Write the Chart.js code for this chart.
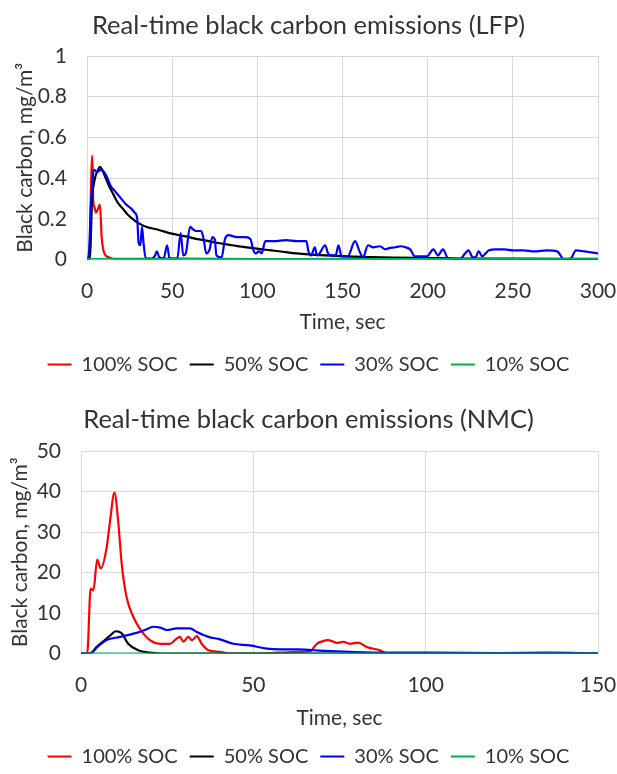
<!DOCTYPE html>
<html lang="en">
<head>
<meta charset="utf-8">
<script src="https://cdn.jsdelivr.net/npm/chart.js"></script>
<style>
    html, body { margin: 0; padding: 0; background: #fff; overflow: hidden; }
    canvas { position: absolute; left: 0; }
</style>
</head>
<body>
<canvas id="lfpChart" width="617" height="400" style="top:0px"></canvas>
<canvas id="nmcChart" width="617" height="380" style="top:400px"></canvas>
<script>
// LFP cell, time in sec and black carbon in mg/m3
const lfp100T = [0,1.5,2.2,3.1,3.6,4.3,5.3,6.5,7.6,8.6,10.2,13,16,25,50,100,150,200,250,300];
const lfp100V = [0,0,0.3,0.51,0.3,0.26,0.23,0.25,0.27,0.11,0.03,0.01,0.003,0.003,0.004,0.002,0.003,0.003,0.002,0.002];
const lfp50T = [0,1,2,3,4,5,6,7.6,9,11,13,15.5,18,21,24,28.2,31,35,40,45,49.7,55,60,65,70,74,80,85,90,95,99.6,105,110,115,123,130,140,152.5,165,180,200,220,250,300];
const lfp50V = [0,0,0.05,0.3,0.37,0.41,0.43,0.455,0.44,0.4,0.36,0.32,0.28,0.25,0.22,0.19,0.175,0.16,0.15,0.138,0.127,0.118,0.11,0.1,0.093,0.085,0.077,0.07,0.064,0.058,0.053,0.048,0.043,0.038,0.03,0.025,0.02,0.015,0.012,0.009,0.007,0.005,0.004,0.003];
const lfp30T = [0,1,2.5,4,6,8,10,12,14,16,17,20,23,26,28,29.5,30.3,31.3,32.3,33.2,34.5,38,40,41,42.5,45,47,48.5,53,55,56.5,58,60.5,62,64,67,68.5,70,72,73.6,75,76,79,81,83,88,93,96,97.5,99,101,102.5,104.7,110,117,123,128.8,130,131.5,133.8,135,136.5,139.8,141.5,143,146,147.6,149.5,153,157.4,160,162,165,168,172,175,177,181,184,187,189.7,192.6,199.5,203.4,206,209,212,219,222,224,226,228,230,232,234,236,240,245,250,256,262.6,270,276,280,284,287,292,296,300];
const lfp30V = [0,0.02,0.3,0.44,0.43,0.44,0.43,0.4,0.36,0.34,0.33,0.3,0.27,0.25,0.23,0.2,0.08,0.07,0.16,0.08,0.005,0.005,0.02,0.04,0.01,0.005,0.07,0.005,0.005,0.13,0.02,0.03,0.16,0.15,0.14,0.14,0.1,0.03,0.05,0.11,0.1,0.02,0.01,0.1,0.12,0.11,0.11,0.1,0.05,0.03,0.04,0.03,0.09,0.09,0.095,0.09,0.09,0.04,0.02,0.06,0.02,0.03,0.07,0.03,0.02,0.02,0.07,0.015,0.015,0.09,0.04,0.01,0.07,0.06,0.065,0.05,0.055,0.06,0.065,0.06,0.05,0.015,0.015,0.05,0.02,0.05,0.005,0.002,0.03,0.045,0.015,0.01,0.04,0.015,0.03,0.045,0.05,0.05,0.045,0.045,0.04,0.045,0.04,0.002,0.005,0.045,0.04,0.035,0.03];
const lfp10T = [0,50,100,150,200,250,300];
const lfp10V = [0.002,0.002,0.002,0.002,0.002,0.002,0.002];

// NMC cell
const nmc100T = [0,1.8,2.8,3.6,4.7,5.7,7.4,8.4,9.7,10.8,11.8,13.2,15.2,17.1,20,23,25.8,27.5,28.7,29.7,31.1,32.2,33.6,35,37,40.3,43.2,50,57,60,63.5,66.4,68.4,70,71.7,73,74.2,76.1,78,80.4,82.9,86.7,88.2,90,100,150];
const nmc100V = [0,0,16,15.6,23.2,21,25.9,32.5,39.7,32.5,22.2,14,9,6.1,3.3,2.4,2.4,3.5,4.1,2.9,4.1,3.3,4.3,2.4,0.8,0.4,0,0,0.2,0.3,0.4,0.5,2.4,3,3.3,3,2.6,2.9,2.4,2.7,1.6,0.8,0.2,0,0,0];
const nmc50T = [0,2.6,4.5,6.9,8.5,10.1,11.8,13.7,16.6,20,23,150];
const nmc50V = [0,0,1.6,3.3,4.5,5.5,5,2.4,0.8,0.2,0,0];
const nmc30T = [0,2.6,5,7.4,11.3,16.1,18.5,21,23,24.9,27.8,31.6,33.6,37,40.3,44.2,49,53.9,57.8,62.6,67.5,72.3,78.1,87.7,102,121,135,150];
const nmc30V = [0,0,1.8,3.3,4.1,5.1,5.8,6.6,6.4,5.8,6.2,6.2,5.3,4.1,3.5,2.4,2,1.2,1,1,0.8,0.6,0.4,0.2,0.2,0.1,0.2,0.05];
const nmc10T = [0,150];
const nmc10V = [0,0];

const seriesNames = ['100% SOC', '50% SOC', '30% SOC', '10% SOC'];
const seriesColors = ['#ff0000', '#000000', '#0000ff', '#00b050'];

const FONT = 'Lato, "Open Sans", sans-serif';
const TXT = '#333333';
const GRID = '#d9d9d9';

function pts(t, v) {
    return t.map((x, i) => ({x: x, y: v[i]}));
}

function makeChart(id, title, series, xMax, yMax, yStep, L) {
    const datasets = series.map((s, i) => ({
        label: seriesNames[i],
        data: pts(s[0], s[1]),
        borderColor: seriesColors[i],
        backgroundColor: seriesColors[i],
        borderWidth: 2.2,
        pointRadius: 0,
        cubicInterpolationMode: 'monotone',
        order: 4 - i
    }));
    return new Chart(document.getElementById(id), {
        type: 'line',
        data: {datasets: datasets},
        options: {
            responsive: false,
            animation: false,
            layout: {padding: {left: 0, right: 0, top: 0, bottom: L.padBottom}},
            plugins: {
                title: {
                    display: true,
                    text: title,
                    color: TXT,
                    font: {family: FONT, size: 25.5, weight: 'normal'},
                    padding: {top: L.titleTop, bottom: L.titleBottom}
                },
                legend: {
                    position: 'bottom',
                    labels: {
                        usePointStyle: true,
                        pointStyle: 'line',
                        pointStyleWidth: 24,
                        color: TXT,
                        padding: 12,
                        font: {family: FONT, size: 20},
                        sort: (a, b) => a.datasetIndex - b.datasetIndex
                    }
                },
                tooltip: {enabled: false}
            },
            scales: {
                x: {
                    type: 'linear',
                    min: 0, max: xMax,
                    ticks: {stepSize: 50, color: TXT, font: {family: FONT, size: 21}, padding: 19, maxRotation: 0},
                    grid: {color: GRID, drawTicks: false},
                    border: {color: GRID},
                    title: {display: true, text: 'Time, sec', color: TXT, font: {family: FONT, size: 21}, padding: {top: 0, bottom: L.xTitleBottom}},
                    afterFit: (scale) => {
                        scale.height = L.xHeight;
                        scale.paddingRight = 19;
                        scale.paddingLeft = 0;
                    }
                },
                y: {
                    min: 0, max: yMax,
                    ticks: {stepSize: yStep, color: TXT, font: {family: FONT, size: 21}, padding: 20,
                        callback: (v) => String(Number(v.toFixed(1)))},
                    grid: {color: GRID, drawTicks: false},
                    border: {color: GRID},
                    title: {display: true, text: 'Black carbon, mg/m\u00B3', color: TXT, font: {family: FONT, size: 21}, padding: {top: L.yTitleTop, bottom: 0}},
                    afterFit: (scale) => { scale.width = L.yWidth; }
                }
            }
        }
    });
}

makeChart('lfpChart', 'Real-time black carbon emissions (LFP)',
    [[lfp100T, lfp100V], [lfp50T, lfp50V], [lfp30T, lfp30V], [lfp10T, lfp10V]],
    300, 1, 0.2,
    {padBottom: 15.5, titleTop: 10, titleBottom: 15.4, xHeight: 83, xTitleBottom: 7.4, yWidth: 87, yTitleTop: 12.4});

makeChart('nmcChart', 'Real-time black carbon emissions (NMC)',
    [[nmc100T, nmc100V], [nmc50T, nmc50V], [nmc30T, nmc30V], [nmc10T, nmc10V]],
    150, 50, 10,
    {padBottom: 3.5, titleTop: 4, titleBottom: 16.4, xHeight: 81, xTitleBottom: 4, yWidth: 81, yTitleTop: 7.4});
</script>
</body>
</html>
